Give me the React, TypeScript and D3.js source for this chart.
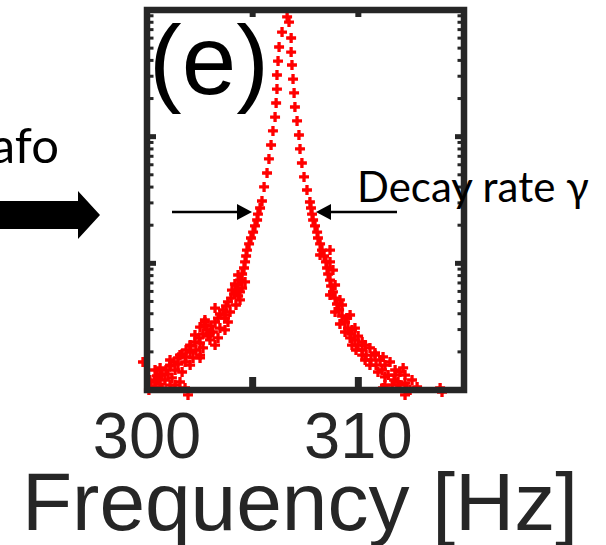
import React, { useEffect, useRef } from "react";
import * as d3 from "d3";

// lower side of the resonance (f < f0), main ridge
const lowerFreq = [
  306.63, 306.39, 306.25, 306.2, 306.15, 306.15, 306.11, 306.06, 305.96, 305.87,
  305.77, 305.68, 305.54, 305.44,
  305.35, 305.25, 305.21,
  305.11, 305.02, 304.92, 304.83, 304.73, 304.69, 304.64, 304.59, 304.5, 304.4,
  304.31, 304.21, 304.12, 303.98, 303.83, 303.74, 303.6, 303.45, 303.36, 303.22,
  303.03, 302.84, 302.65, 302.46, 302.27, 302.04, 301.85, 301.66, 301.47, 301.28,
  301.09, 300.9, 300.71, 300.52, 300.38, 300.19, 300.09,
];
const lowerDb = [
  29.45, 28.26, 27.08, 25.97, 24.87, 23.76, 22.66, 21.55, 20.45, 19.34,
  18.24, 17.13, 16.03, 14.92,
  14.37, 13.89, 13.42,
  12.95, 12.47, 12.0, 11.53, 11.05, 10.58, 10.11, 9.63, 9.16, 8.68,
  8.29, 7.89, 7.58, 7.26, 6.95, 6.63, 6.32, 6.0, 5.68, 5.37,
  5.05, 4.74, 4.42, 4.11, 3.79, 3.47, 3.16, 2.84, 2.53, 2.21,
  1.89, 1.58, 1.26, 0.95, 0.63, 0.32, 0.0,
];

// lower side, noisy points in the wings
const lowerNoiseFreq = [
  304.4, 304.21, 303.93, 303.69, 303.83, 302.74, 303.45, 303.12, 302.89, 303.36,
  302.98, 302.51, 303.22, 302.65, 302.32, 302.04, 302.51, 301.85, 302.18, 301.09,
  301.8, 301.47, 302.04, 300.62, 301.33, 301.66, 300.99, 300.47, 301.18, 300.85,
  301.56, 300.62, 301.09, 300.38, 300.71, 301.8, 299.81, 301.94, 302.74, 302.51,
  302.98, 304.64, 304.5, 304.4, 304.31, 304.16, 304.31, 304.02, 303.22, 303.69,
  302.27, 302.04, 301.56, 301.09, 300.62, 300.38, 300.14, 301.33, 302.51, 303.69,
  302.74,
];
const lowerNoiseDb = [
  7.11, 6.71, 6.16, 5.68, 5.37, 5.13, 4.89, 4.58, 4.26, 4.11,
  3.95, 3.71, 3.55, 3.32, 3.16, 3.0, 2.76, 2.61, 2.53, 2.37,
  2.21, 2.05, 1.97, 1.74, 1.58, 1.42, 1.26, 1.11, 0.95, 0.79,
  0.63, 0.47, 0.39, 0.24, 0.16, 0.16, 2.21, -0.39, 5.37, 4.97,
  4.5, 8.53, 8.05, 7.74, 7.42, 8.37, 9.08, 7.89, 6.47, 5.92,
  4.34, 3.55, 2.76, 1.97, 1.18, 1.58, 0.79, 0.39, 2.53, 4.74,
  5.53,
];

// upper side of the resonance (f > f0), main ridge
const upperFreq = [
  306.72, 306.82, 306.82, 306.86, 306.91, 306.96, 307.0, 307.1, 307.19, 307.24,
  307.33, 307.43, 307.57, 307.71,
  307.76, 307.81, 307.86,
  307.95, 308.05, 308.09, 308.19, 308.28, 308.38, 308.47, 308.52, 308.57, 308.66,
  308.71, 308.8, 308.9, 308.99, 309.09, 309.23, 309.37, 309.51, 309.66, 309.84,
  309.99, 310.18, 310.37, 310.6, 310.84, 311.12, 311.41, 311.69, 311.97, 312.31,
];
const upperDb = [
  29.05, 27.79, 26.68, 25.66, 24.55, 23.45, 22.34, 21.24, 20.13, 19.03,
  17.92, 16.82, 15.79, 14.84,
  14.37, 13.89, 13.42,
  12.95, 12.47, 12.0, 11.53, 11.05, 10.58, 10.11, 9.63, 9.16, 8.68,
  8.21, 7.74, 7.26, 6.79, 6.32, 5.84, 5.37, 4.89, 4.42, 3.95,
  3.55, 3.16, 2.76, 2.37, 1.97, 1.58, 1.18, 0.79, 0.39, 0.08,
];

// upper side, noisy points in the wings
const upperNoiseFreq = [
  308.66, 308.19, 308.66, 308.9, 308.66, 309.23, 308.9, 309.47, 309.13, 309.84,
  309.37, 309.99, 309.61, 310.18, 309.7, 310.55, 309.89, 310.79, 310.18, 311.17,
  310.32, 311.5, 310.55, 312.12, 311.74, 310.93, 312.21, 311.26, 312.54, 311.88,
  311.6, 312.78, 311.17, 312.45, 313.87, 313.96, 312.21, 308.8, 309.13, 309.61,
  309.7, 310.32, 310.79, 311.26, 311.74, 312.21, 311.97, 311.03, 311.26,
];
const upperNoiseDb = [
  11.05, 10.66, 10.11, 8.29, 7.5, 6.71, 6.16, 5.68, 5.21, 4.89,
  4.58, 4.26, 4.11, 3.79, 3.55, 3.32, 3.16, 2.92, 2.76, 2.61,
  2.37, 2.21, 1.97, 1.74, 1.58, 1.42, 1.18, 1.03, 0.79, 0.63,
  0.39, 0.24, 0.16, 0.0, 0.16, -0.16, -0.39, 9.47, 7.11, 5.92,
  4.74, 3.55, 2.76, 1.97, 1.18, 0.55, 1.42, 2.37, 0.39,
];

const xTicks = [305, 310];
const xTickLabels = [300, 310];

export default function App() {
  const ref = useRef<SVGSVGElement>(null);

  useEffect(() => {
    if (!ref.current) return;
    const svg = d3.select(ref.current);
    svg.selectAll("*").remove();

    const x = d3.scaleLinear().domain([300, 315]).range([147, 464]);
    const y = d3.scaleLog().domain([1, 1000]).range([390, 10]);
    const toPower = (db: number) => Math.pow(10, db / 10);

    const pts: { f: number; db: number }[] = [];
    const add = (fs: number[], ds: number[]) =>
      fs.forEach((f, i) => pts.push({ f, db: ds[i] }));
    add(lowerFreq, lowerDb);
    add(lowerNoiseFreq, lowerNoiseDb);
    add(upperFreq, upperDb);
    add(upperNoiseFreq, upperNoiseDb);

    // markers
    svg.append("g")
      .selectAll("path")
      .data(pts)
      .enter()
      .append("path")
      .attr("transform", (d) => `translate(${x(d.f)},${y(toPower(d.db))})`)
      .attr("d", d3.symbol(d3.symbolCross, 55)())
      .attr("fill", "#ff0000");

    const axisColor = "#262626";
    const [x0, x1] = x.range();
    const [yb, yt] = y.range();

    // frame
    svg.append("rect")
      .attr("x", x0)
      .attr("y", yt)
      .attr("width", x1 - x0)
      .attr("height", yb - yt)
      .attr("fill", "none")
      .attr("stroke", axisColor)
      .attr("stroke-width", 6.5);

    // log ticks on both sides
    const yTicks = y.ticks().filter((t) => t > 1 && t < 1000);
    const isMajor = (t: number) => Math.abs(Math.log10(t) - Math.round(Math.log10(t))) < 1e-6;
    const g = svg.append("g").attr("stroke", axisColor);
    yTicks.forEach((t) => {
      const len = isMajor(t) ? 9 : 6.5;
      const w = isMajor(t) ? 5 : 3;
      g.append("line").attr("x1", x0).attr("x2", x0 + len)
        .attr("y1", y(t)).attr("y2", y(t)).attr("stroke-width", w);
      g.append("line").attr("x1", x1).attr("x2", x1 - len)
        .attr("y1", y(t)).attr("y2", y(t)).attr("stroke-width", w);
    });

    xTicks.forEach((t) => {
      g.append("line").attr("x1", x(t)).attr("x2", x(t))
        .attr("y1", yb).attr("y2", yb - 13).attr("stroke-width", 7);
      g.append("line").attr("x1", x(t)).attr("x2", x(t))
        .attr("y1", yt).attr("y2", yt + 7).attr("stroke-width", 6);
    });

    svg.append("g")
      .selectAll("text")
      .data(xTickLabels)
      .enter()
      .append("text")
      .attr("x", (d) => x(d))
      .attr("y", 458)
      .attr("text-anchor", "middle")
      .style("font-family", "'Liberation Sans', Arial, sans-serif")
      .style("font-size", "65px")
      .style("fill", axisColor)
      .text((d) => d);

    svg.append("text")
      .attr("x", 22)
      .attr("y", 530)
      .style("font-family", "'Liberation Sans', Arial, sans-serif")
      .style("font-size", "82px")
      .style("fill", axisColor)
      .text("Frequency [Hz]");

    // panel label
    svg.append("text")
      .attr("x", 149)
      .attr("y", 94)
      .style("font-family", "'Liberation Sans', Arial, sans-serif")
      .style("font-size", "98px")
      .style("fill", "#000")
      .text("(e)");

    // annotations
    svg.append("text")
      .attr("x", 59)
      .attr("y", 163)
      .attr("text-anchor", "end")
      .style("font-family", "Lato, 'Open Sans', sans-serif")
      .style("font-size", "49px")
      .style("fill", "#000")
      .text("afo");

    svg.append("text")
      .attr("x", 357)
      .attr("y", 202)
      .style("font-family", "Lato, 'Open Sans', sans-serif")
      .style("font-size", "42px")
      .style("fill", "#000")
      .text("Decay rate γ");

    // big arrow on the left
    svg.append("path")
      .attr("d", "M0,201 L78,201 L78,191 L100,215 L78,239 L78,229 L0,229 Z")
      .attr("fill", "#000");

    // width arrows
    const ay = 212;
    svg.append("line").attr("x1", 172).attr("x2", 240).attr("y1", ay).attr("y2", ay)
      .attr("stroke", "#000").attr("stroke-width", 2.5);
    svg.append("path").attr("d", `M237,${ay - 8} L252,${ay} L237,${ay + 8} Z`).attr("fill", "#000");
    svg.append("line").attr("x1", 397).attr("x2", 328).attr("y1", ay).attr("y2", ay)
      .attr("stroke", "#000").attr("stroke-width", 2.5);
    svg.append("path").attr("d", `M331,${ay - 8} L316,${ay} L331,${ay + 8} Z`).attr("fill", "#000");
  }, []);

  return (
    <svg
      ref={ref}
      width={606}
      height={545}
      style={{ position: "absolute", left: 0, top: 0, background: "#fff" }}
    />
  );
}
